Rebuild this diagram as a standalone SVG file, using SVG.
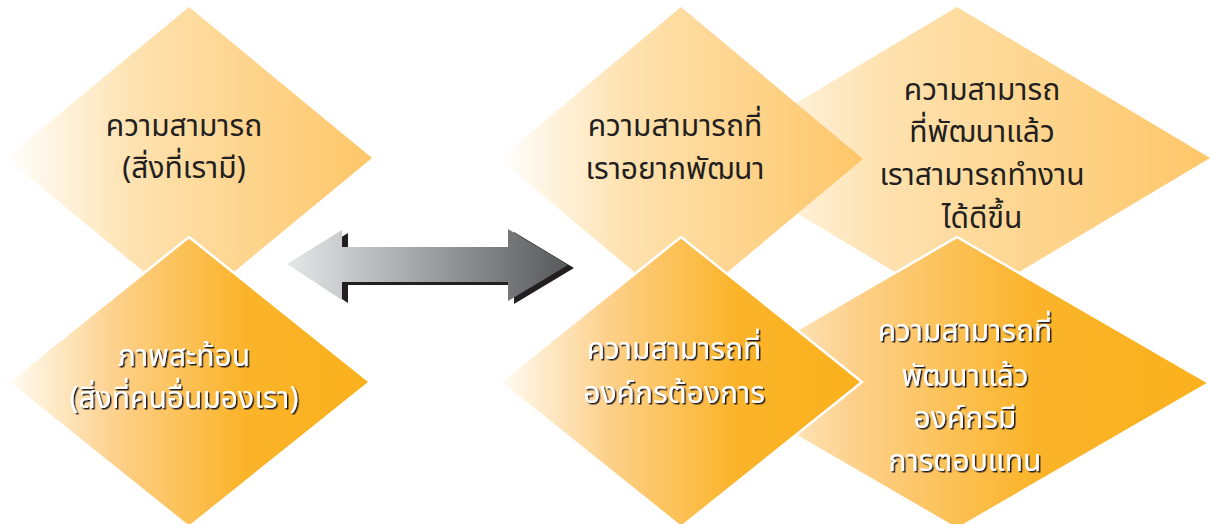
<svg xmlns="http://www.w3.org/2000/svg" width="1210" height="524" viewBox="0 0 1210 524">
<style>
.lt{font-family:"Noto Sans Thai","Noto Sans","DejaVu Sans",sans-serif;font-size:30px;fill:#231f20;text-anchor:middle}
.dk{font-family:"Noto Sans Thai","Noto Sans","DejaVu Sans",sans-serif;font-size:30px;fill:#ffffff;text-anchor:middle;filter:url(#sh)}
.light{fill:url(#gl)}
.dark{fill:url(#gd);stroke:#ffffff;stroke-width:2.5;stroke-linejoin:miter}
</style>
<defs>
<linearGradient id="gl" x1="0" y1="0" x2="1" y2="0">
<stop offset="0" stop-color="#ffffff"/>
<stop offset="0.35" stop-color="#fee2b0"/>
<stop offset="1" stop-color="#fec668"/>
</linearGradient>
<linearGradient id="gd" x1="0" y1="0" x2="1" y2="0">
<stop offset="0" stop-color="#fffcf5"/>
<stop offset="0.3" stop-color="#fdd08a"/>
<stop offset="0.65" stop-color="#fbb42a"/>
<stop offset="1" stop-color="#fbb11c"/>
</linearGradient>
<linearGradient id="ga" x1="287" y1="0" x2="568" y2="0" gradientUnits="userSpaceOnUse">
<stop offset="0" stop-color="#e6e7e8"/>
<stop offset="1" stop-color="#58595b"/>
</linearGradient>
<filter id="sh" x="-10%" y="-20%" width="120%" height="150%">
<feDropShadow dx="1.5" dy="1.5" stdDeviation="0.3" flood-color="#231f20" flood-opacity="1"/>
</filter>
</defs>
<g id="n5"><polygon class="light" points="957,7 1210,158 957,309 704,158"/>
<text class="lt" x="982" y="100">ความสามารถ</text>
<text class="lt" x="982" y="142">ที่พัฒนาแล้ว</text>
<text class="lt" x="982" y="185">เราสามารถทำงาน</text>
<text class="lt" x="982" y="228">ได้ดีขึ้น</text></g>
<g id="n3"><polygon class="light" points="681,7 863,159 681,311 499,159"/>
<text class="lt" x="675" y="136">ความสามารถที่</text>
<text class="lt" x="675" y="179">เราอยากพัฒนา</text></g>
<g id="n6"><polygon class="dark" points="957,237 1209,383 957,529 705,383"/>
<text class="dk" x="965" y="341">ความสามารถที่</text>
<text class="dk" x="965" y="386">พัฒนาแล้ว</text>
<text class="dk" x="965" y="428">องค์กรมี</text>
<text class="dk" x="965" y="471">การตอบแทน</text></g>
<g id="n4"><polygon class="dark" points="681,237 862,382 681,527 500,382"/>
<text class="dk" x="674" y="359">ความสามารถที่</text>
<text class="dk" x="674" y="403">องค์กรต้องการ</text></g>
<g id="n1"><polygon class="light" points="189,7 372,158 189,309 6,158"/>
<text class="lt" x="184" y="136">ความสามารถ</text>
<text class="lt" x="184" y="178">(สิ่งที่เรามี)</text></g>
<g id="n2"><polygon class="dark" points="189,237 370,382 189,527 8,382"/>
<text class="dk" x="184" y="366">ภาพสะท้อน</text>
<text class="dk" x="184" y="408">(สิ่งที่คนอื่นมองเรา)</text></g>
<g id="connectors">
<polygon fill="#231f20" points="293,267 348,233 348,250 514,250 514,232 574,268 514,304 514,285 348,285 348,303"/>
<polygon fill="url(#ga)" points="287,264 342,230 342,247 508,247 508,229 568,265 508,301 508,282 342,282 342,300"/>
</g>
</svg>
